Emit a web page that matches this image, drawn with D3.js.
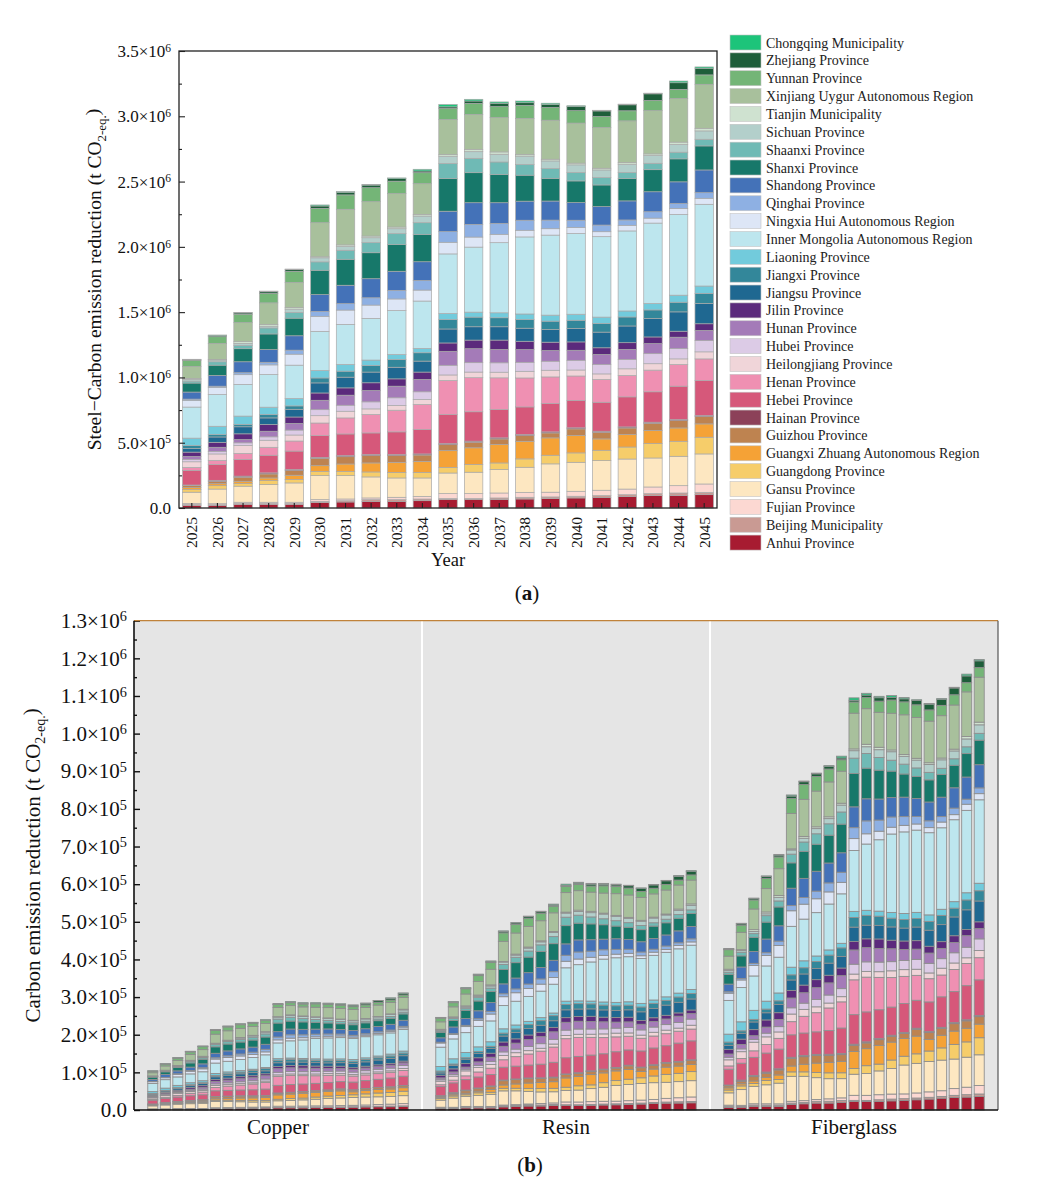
<!DOCTYPE html>
<html>
<head>
<meta charset="utf-8">
<script src="https://cdn.jsdelivr.net/npm/d3@7"></script>
<style>
  body { margin: 0; background: #fff; }
  svg { font-family: "Liberation Serif", "Times New Roman", serif; }
</style>
</head>
<body>
<svg id="chart" width="1055" height="1188"></svg>
<script>
// provinces, stacked bottom -> top
const provinces = [
  "Anhui Province", "Beijing Municipality", "Fujian Province", "Gansu Province",
  "Guangdong Province", "Guangxi Zhuang Autonomous Region", "Guizhou Province",
  "Hainan Province", "Hebei Province", "Henan Province", "Heilongjiang Province",
  "Hubei Province", "Hunan Province", "Jilin Province", "Jiangsu Province",
  "Jiangxi Province", "Liaoning Province", "Inner Mongolia Autonomous Region",
  "Ningxia Hui Autonomous Region", "Qinghai Province", "Shandong Province",
  "Shanxi Province", "Shaanxi Province", "Sichuan Province", "Tianjin Municipality",
  "Xinjiang Uygur Autonomous Region", "Yunnan Province", "Zhejiang Province",
  "Chongqing Municipality"
];

const colors = [
  "#a71b31", "#c99a93", "#fcd8d2", "#fde7c1", "#f6cd6a", "#f5a236", "#be8350",
  "#8c4159", "#d6587a", "#ef90b2", "#f0d5d9", "#dccbe6", "#a47bb8", "#5b2a7c",
  "#1f6891", "#33879a", "#72cbdc", "#bde6ee", "#dde6f6", "#8eb0e3", "#4472b8",
  "#17786a", "#6fbab5", "#b3cfcb", "#cfe2d0", "#a8c09c", "#74b577", "#1e5e3a",
  "#1dc47a"
];

const years = ["2025", "2026", "2027", "2028", "2029", "2030", "2031", "2032", "2033",
  "2034", "2035", "2036", "2037", "2038", "2039", "2040", "2041", "2042", "2043",
  "2044", "2045"];

// steel reduction per year, kt CO2-eq, same province order as above
const steel = [
  [18,8,8,87,20,15,15,5,112,23,43,18,23,33,28,23,56,238,51,10,54,69,15,13,8,92,46,5,3],
  [20,5,8,112,26,15,18,8,120,33,49,20,31,38,41,18,64,243,54,10,82,79,26,13,5,123,51,10,3],
  [26,8,10,123,20,18,31,8,128,46,61,20,26,43,54,18,64,243,74,15,84,100,26,15,13,146,64,10,3],
  [26,8,10,135,31,20,31,8,135,61,54,26,43,51,51,26,56,250,74,20,97,120,46,13,13,166,72,13,5],
  [26,8,10,148,26,33,36,8,141,77,46,38,51,49,59,26,56,256,84,31,110,135,43,26,13,192,84,13,5],
  [41,10,13,184,33,43,56,8,166,97,56,46,72,56,77,38,56,301,115,38,128,187,64,31,8,261,110,18,8],
  [46,10,13,179,33,56,56,8,166,123,51,46,77,56,82,46,51,307,110,49,141,199,69,28,13,273,110,20,5],
  [51,13,13,161,38,69,56,8,166,141,43,54,87,59,82,51,41,319,102,56,146,199,77,38,13,263,107,20,5],
  [51,13,18,148,43,77,51,8,174,166,36,59,89,56,89,59,38,337,89,66,146,204,84,38,13,256,95,20,5],
  [56,13,20,141,43,84,49,8,187,192,38,59,95,56,84,64,33,363,84,74,143,210,89,51,13,235,84,13,13],
  [64,8,38,158,43,128,46,8,222,261,43,74,107,64,107,72,46,457,89,82,156,250,115,56,13,268,84,13,18],
  [64,8,38,164,59,128,43,8,225,261,43,72,107,66,102,74,38,498,77,97,166,230,110,51,18,268,84,18,13],
  [64,13,38,179,51,141,43,8,217,243,43,72,102,72,102,69,38,537,64,84,158,217,95,59,18,263,84,26,10],
  [69,13,38,192,64,135,43,8,212,222,51,69,97,64,100,66,43,590,51,77,146,199,82,64,13,276,100,20,13],
  [72,13,36,217,66,133,38,8,217,204,51,69,82,64,97,64,46,613,49,66,146,174,74,59,13,299,97,23,10],
  [77,13,38,222,72,133,51,8,210,187,46,74,77,64,102,64,46,618,46,56,135,166,64,59,13,307,95,33,5],
  [82,13,41,227,79,87,51,8,222,174,43,72,77,51,120,66,49,616,38,51,141,166,56,59,13,312,84,43,5],
  [89,13,43,230,92,95,51,8,230,164,51,72,77,51,128,69,46,613,43,41,146,171,46,64,13,319,77,46,5],
  [95,15,51,222,110,100,56,8,233,166,49,77,77,51,141,66,49,616,38,49,153,169,49,59,13,332,77,51,5],
  [97,18,56,225,115,102,56,8,256,166,43,79,87,46,148,74,54,618,46,38,166,176,51,59,18,335,69,51,13],
  [102,18,64,230,128,102,56,8,268,166,54,87,77,51,156,77,56,626,46,43,174,184,51,64,20,337,72,51,10]
];

// panel (b): bar totals per material, t CO2-eq
const materials = ["Copper", "Resin", "Fiberglass"];
const copper = [104000,123000,139000,156000,170000,214000,223000,229000,233000,240000,
  283000,288000,285000,285000,284000,282000,279000,284000,291000,298000,311000];
const resin = [246000,288000,325000,361000,396000,476000,498000,515000,528000,547000,
  600000,605000,602000,602000,600000,597000,590000,599000,610000,623000,636000];
const fiberglass = [429000,496000,563000,622000,679000,837000,874000,895000,915000,940000,
  1095000,1107000,1099000,1101000,1096000,1090000,1080000,1093000,1123000,1158000,1197000];
const materialTotals = [copper, resin, fiberglass];

const ticksA = d3.range(0, 3.5e6 + 1, 5e5);
const ticksB = d3.range(0, 1.3e6 + 1, 1e5);

let svg = d3.select("#chart");

function sciLabel(text, fs) {
  text.each(function (d) {
    let t = d3.select(this).text(null);
    if (d === 0) { t.append("tspan").text("0.0"); return; }
    let e = Math.floor(Math.log10(d) + 1e-9);
    let m = (d / Math.pow(10, e)).toFixed(1);
    t.append("tspan").text(m + "×10");
    t.append("tspan").attr("dy", "-0.45em").attr("font-size", fs * 0.68).text(e);
  });
}

function stackRows(totals) {
  return years.map((y, i) => {
    let sum = d3.sum(steel[i]);
    let row = { year: y };
    provinces.forEach((p, j) => {
      row[p] = totals ? steel[i][j] / sum * totals[i] : steel[i][j] * 1000;
    });
    return row;
  });
}

function drawStack(g, series, x, y, width, stroke, sw) {
  g.selectAll("g.layer")
    .data(series)
    .join("g")
    .attr("class", "layer")
    .attr("fill", (d, i) => colors[i])
    .selectAll("rect")
    .data((d) => d)
    .join("rect")
    .attr("x", (d) => x(d.data.year))
    .attr("y", (d) => y(d[1]))
    .attr("width", width)
    .attr("height", (d) => Math.max(0, y(d[0]) - y(d[1])))
    .attr("stroke", stroke)
    .attr("stroke-width", sw);
}

// d3 axes put sans-serif on their group, drop it so the serif from css applies
function plainAxis(g) {
  g.attr("font-family", null).attr("font-size", null);
  g.select(".domain").remove();
}

let stack = d3.stack().keys(provinces);

// ---------- panel (a) ----------
const a = { left: 179, right: 717, top: 51, bottom: 508 };
let xA = d3.scaleBand().domain(years).range([a.left, a.right]).paddingInner(0.28).paddingOuter(0.14);
let yA = d3.scaleLinear().domain([0, 3.5e6]).range([a.bottom, a.top]);

let gA = svg.append("g");
drawStack(gA, stack(stackRows(null)), xA, yA, xA.bandwidth(), "#a9a9a9", 0.7);

gA.append("g")
  .attr("transform", `translate(${a.left},0)`)
  .call(d3.axisLeft(yA).tickValues(d3.range(2.5e5, 3.5e6, 5e5)).tickSizeInner(-3).tickSizeOuter(0).tickFormat(""))
  .call(plainAxis);

gA.append("g")
  .attr("transform", `translate(${a.left},0)`)
  .call(d3.axisLeft(yA).tickValues(ticksA).tickSizeInner(-6).tickSizeOuter(0))
  .call(plainAxis)
  .call((g) => g.selectAll(".tick text").attr("x", -8).attr("font-size", 17).attr("fill", "#111")
    .call(sciLabel, 17));

gA.append("g")
  .attr("transform", `translate(0,${a.bottom})`)
  .call(d3.axisBottom(xA).tickSizeInner(-5).tickSizeOuter(0))
  .call(plainAxis)
  .call((g) => g.selectAll(".tick text")
    .attr("transform", "rotate(-90)")
    .attr("text-anchor", "end")
    .attr("x", -9).attr("y", 0).attr("dy", "0.35em")
    .attr("font-size", 15.5).attr("fill", "#111"));

gA.selectAll(".tick line").attr("stroke", "#222").attr("stroke-width", 1.1);

gA.append("rect")
  .attr("x", a.left).attr("y", a.top)
  .attr("width", a.right - a.left).attr("height", a.bottom - a.top)
  .attr("fill", "none").attr("stroke", "#222").attr("stroke-width", 1.3);

let titleA = gA.append("text")
  .attr("transform", `translate(101,${(a.top + a.bottom) / 2}) rotate(-90)`)
  .attr("text-anchor", "middle").attr("font-size", 19.5).attr("fill", "#111");
titleA.append("tspan").text("Steel−Carbon emission reduction (t CO");
titleA.append("tspan").attr("font-size", 13).attr("dy", "0.35em").text("2-eq.");
titleA.append("tspan").attr("dy", "-0.35em").text(")");

gA.append("text")
  .attr("x", (a.left + a.right) / 2).attr("y", 566)
  .attr("text-anchor", "middle").attr("font-size", 18.5).attr("fill", "#111")
  .text("Year");

// legend, top -> bottom is reverse of the stack
let legend = svg.append("g").attr("transform", "translate(730,35)");
let legendItems = legend.selectAll("g")
  .data(provinces.map((p, i) => ({ p, c: colors[i] })).reverse())
  .join("g")
  .attr("transform", (d, i) => `translate(0,${i * 17.86})`);
legendItems.append("rect")
  .attr("width", 31).attr("height", 15)
  .attr("fill", (d) => d.c).attr("stroke", "#c4c4c4").attr("stroke-width", 0.6);
legendItems.append("text")
  .attr("x", 36).attr("y", 12.5)
  .attr("font-size", 14).attr("fill", "#222")
  .text((d) => d.p);

let labelA = svg.append("text").attr("x", 527).attr("y", 600)
  .attr("text-anchor", "middle").attr("font-size", 21).attr("fill", "#111");
labelA.append("tspan").text("(");
labelA.append("tspan").attr("font-weight", "bold").text("a");
labelA.append("tspan").text(")");

// ---------- panel (b) ----------
const b = { left: 134, right: 998, top: 620.7, bottom: 1110 };
let xG = d3.scaleBand().domain(materials).range([b.left, b.right]);
let xI = d3.scaleBand().domain(years).range([0, xG.bandwidth()]).paddingInner(0.2).paddingOuter(1.1);
let yB = d3.scaleLinear().domain([0, 1.3e6]).range([b.bottom, b.top]);

let gB = svg.append("g");
gB.append("rect")
  .attr("x", b.left).attr("y", b.top)
  .attr("width", b.right - b.left).attr("height", b.bottom - b.top)
  .attr("fill", "#e5e5e5");

gB.selectAll("line.sep")
  .data(materials.slice(1))
  .join("line")
  .attr("class", "sep")
  .attr("x1", (d) => xG(d)).attr("x2", (d) => xG(d))
  .attr("y1", b.top).attr("y2", b.bottom)
  .attr("stroke", "#fff").attr("stroke-width", 2);

materials.forEach((m, k) => {
  let g = gB.append("g").attr("transform", `translate(${xG(m)},0)`);
  drawStack(g, stack(stackRows(materialTotals[k])), xI, yB, xI.bandwidth(), "#8f8f8f", 0.9);
});

gB.append("g")
  .attr("transform", `translate(${b.left},0)`)
  .call(d3.axisLeft(yB).tickValues(d3.range(5e4, 1.3e6, 1e5)).tickSizeInner(-3).tickSizeOuter(0).tickFormat(""))
  .call(plainAxis);

gB.append("g")
  .attr("transform", `translate(${b.left},0)`)
  .call(d3.axisLeft(yB).tickValues(ticksB).tickSizeInner(-6).tickSizeOuter(0))
  .call(plainAxis)
  .call((g) => g.selectAll(".tick text").attr("x", -7).attr("font-size", 21).attr("fill", "#111")
    .call(sciLabel, 21));

gB.selectAll(".tick line").attr("stroke", "#111").attr("stroke-width", 1.4);

gB.append("line").attr("x1", b.left).attr("x2", b.right).attr("y1", b.top).attr("y2", b.top)
  .attr("stroke", "#c0823a").attr("stroke-width", 1.2);
gB.append("line").attr("x1", b.right).attr("x2", b.right).attr("y1", b.top).attr("y2", b.bottom)
  .attr("stroke", "#555").attr("stroke-width", 1.2);
gB.append("line").attr("x1", b.left).attr("x2", b.right).attr("y1", b.bottom).attr("y2", b.bottom)
  .attr("stroke", "#111").attr("stroke-width", 1.6);
gB.append("line").attr("x1", b.left).attr("x2", b.left).attr("y1", b.top).attr("y2", b.bottom)
  .attr("stroke", "#111").attr("stroke-width", 1.6);

gB.selectAll("text.cat")
  .data(materials)
  .join("text")
  .attr("class", "cat")
  .attr("x", (d) => xG(d) + xG.bandwidth() / 2).attr("y", 1134)
  .attr("text-anchor", "middle").attr("font-size", 21).attr("fill", "#111")
  .text((d) => d);

let titleB = gB.append("text")
  .attr("transform", `translate(40,${(b.top + b.bottom) / 2}) rotate(-90)`)
  .attr("text-anchor", "middle").attr("font-size", 21).attr("fill", "#111");
titleB.append("tspan").text("Carbon emission reduction (t CO");
titleB.append("tspan").attr("font-size", 14).attr("dy", "0.35em").text("2-eq.");
titleB.append("tspan").attr("dy", "-0.35em").text(")");

let labelB = svg.append("text").attr("x", 530).attr("y", 1172)
  .attr("text-anchor", "middle").attr("font-size", 21).attr("fill", "#111");
labelB.append("tspan").text("(");
labelB.append("tspan").attr("font-weight", "bold").text("b");
labelB.append("tspan").text(")");
</script>
</body>
</html>
